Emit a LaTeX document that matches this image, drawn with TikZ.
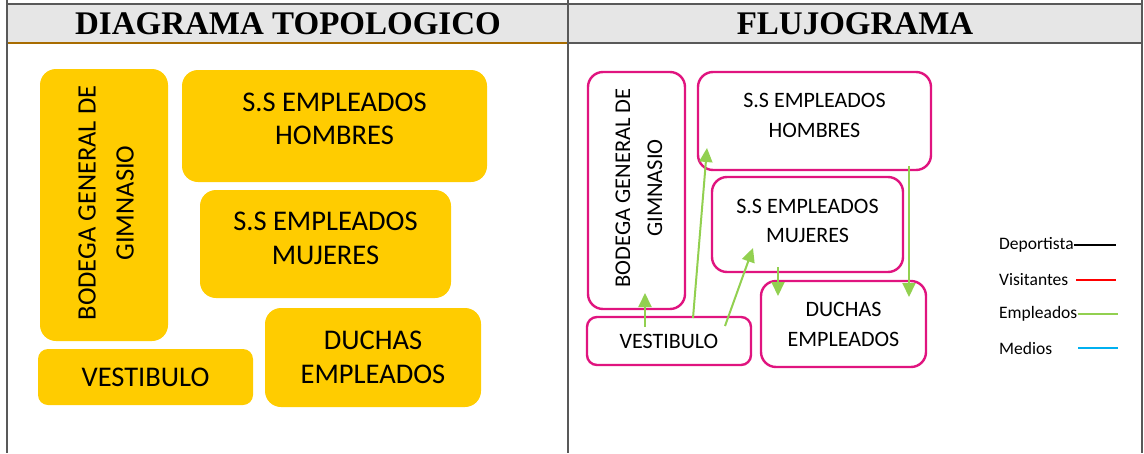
\documentclass[tikz,border=0pt]{standalone}
\usepackage{fontspec}
\setmainfont{Carlito}
\newfontfamily\headfont{Liberation Serif}
\usetikzlibrary{arrows.meta}
\definecolor{gold}{RGB}{255,204,0}
\definecolor{magbox}{RGB}{224,20,127}
\definecolor{grnarr}{RGB}{146,208,80}
\definecolor{gridln}{RGB}{89,89,89}
\definecolor{headbg}{RGB}{230,230,230}
\definecolor{brownln}{RGB}{168,108,0}
\definecolor{medblue}{RGB}{0,176,240}
\definecolor{visred}{RGB}{255,0,0}
\tikzset{
  lbox/.style={draw=none, fill=gold, rounded corners=16pt, align=center, inner sep=0pt,
    font=\fontsize{28.5}{33.5}\selectfont},
  ltxt/.style={align=center, inner sep=0pt, font=\fontsize{28.5}{33.5}\selectfont},
  rbox/.style={draw=magbox, line width=2.4pt, fill=white, rounded corners=15pt, align=center, inner sep=0pt,
    font=\fontsize{22}{30}\selectfont},
  rtxt/.style={align=center, inner sep=0pt, font=\fontsize{22}{29.5}\selectfont},
  flow/.style={draw=grnarr, line width=2pt, -{Triangle[width=13pt,length=14pt]}, fill=grnarr},
  grid/.style={draw=gridln, line width=2pt},
  headtxt/.style={font=\headfont\bfseries\fontsize{33}{36}\selectfont, inner sep=0pt},
  legtxt/.style={font=\fontsize{17.5}{20}\selectfont, anchor=west, inner sep=0pt},
  legln/.style={line width=2pt}
}
\begin{document}
\begin{tikzpicture}[x=1pt,y=-1pt]
\useasboundingbox (0,0) rectangle (1144,453);
% header
\fill[headbg] (7,3.5) rectangle (1142,43);
\draw[brownln, line width=2pt] (7,43) -- (568,43);
\draw[grid] (568,43) -- (1142,43);
\draw[grid] (7,3.5) -- (1142,3.5);
\draw[grid] (7,0) -- (7,453);
\draw[grid] (568,0) -- (568,453);
\draw[grid] (1142,0) -- (1142,453);
\node[headtxt] (h1) at (288,24) {DIAGRAMA TOPOLOGICO};
\node[headtxt] (h2) at (855,24) {FLUJOGRAMA};
% left boxes
\node[lbox, minimum width=128pt, minimum height=272pt] (lbod) at (104,205) {};
\node[rotate=90, align=center, font=\fontsize{26.5}{38}\selectfont] (lbodt) at (106,203) {BODEGA GENERAL DE\\GIMNASIO};
\node[lbox, minimum width=305pt, minimum height=112pt] (lhom) at (334.5,126) {};
\node[ltxt] (lhomt) at (334.5,119) {S.S EMPLEADOS\\HOMBRES};
\node[lbox, minimum width=251pt, minimum height=108pt] (lmuj) at (325.5,244) {};
\node[ltxt] (lmujt) at (325.5,238.5) {S.S EMPLEADOS\\MUJERES};
\node[lbox, minimum width=216pt, minimum height=99pt] (lduc) at (373,357.5) {DUCHAS\\EMPLEADOS};
\node[lbox, rounded corners=10pt, minimum width=215pt, minimum height=56pt] (lves) at (145.5,377) {VESTIBULO};
% right boxes
\node[rbox, minimum width=97pt, minimum height=237pt] (rbod) at (636.5,190.5) {};
\node[rotate=90, align=center, font=\fontsize{22.5}{32}\selectfont] (rbodt) at (639,188) {BODEGA GENERAL DE\\GIMNASIO};
\node[rbox, minimum width=233pt, minimum height=98pt] (rhom) at (814.5,121) {};
\node[rtxt] (rhomt) at (814.5,115.5) {S.S EMPLEADOS\\HOMBRES};
\node[rbox, minimum width=191pt, minimum height=95pt] (rmuj) at (807.5,224.5) {};
\node[rtxt] (rmujt) at (807.5,221) {S.S EMPLEADOS\\MUJERES};
\node[rbox, minimum width=165pt, minimum height=86pt] (rduc) at (843.5,324) {DUCHAS\\EMPLEADOS};
\node[rbox, rounded corners=10pt, minimum width=164pt, minimum height=48pt] (rves) at (669,341) {VESTIBULO};
% arrows
\coordinate (a1s) at (645,327); \coordinate (a1e) at (645,293);
\coordinate (a2s) at (693,318); \coordinate (a2e) at (707,148);
\coordinate (a3s) at (725,326); \coordinate (a3e) at (753,248);
\coordinate (a4s) at (778,267); \coordinate (a4e) at (778,296);
\coordinate (a5s) at (909,166); \coordinate (a5e) at (909,297);
\draw[flow] (a1s) -- (a1e);
\draw[flow] (a2s) -- (a2e);
\draw[flow] (a3s) -- (a3e);
\draw[flow] (a4s) -- (a4e);
\draw[flow] (a5s) -- (a5e);
% legend
\node[legtxt] (ldep) at (999,245) {Deportista};
\node[legtxt] (lvis) at (999,280) {Visitantes};
\node[legtxt] (lemp) at (999,314) {Empleados};
\node[legtxt] (lmed) at (999,348) {Medios};
\coordinate (ldepe) at (1116,245);
\coordinate (lviss) at (1076,280); \coordinate (lvise) at (1116,280);
\coordinate (lempe) at (1118,314);
\coordinate (lmeds) at (1078,348); \coordinate (lmede) at (1118,348);
\draw[legln, black] (ldep.east) -- (ldepe);
\draw[legln, visred] (lviss) -- (lvise);
\draw[legln, grnarr] (lemp.east) -- (lempe);
\draw[legln, medblue] (lmeds) -- (lmede);
\end{tikzpicture}
\end{document}
